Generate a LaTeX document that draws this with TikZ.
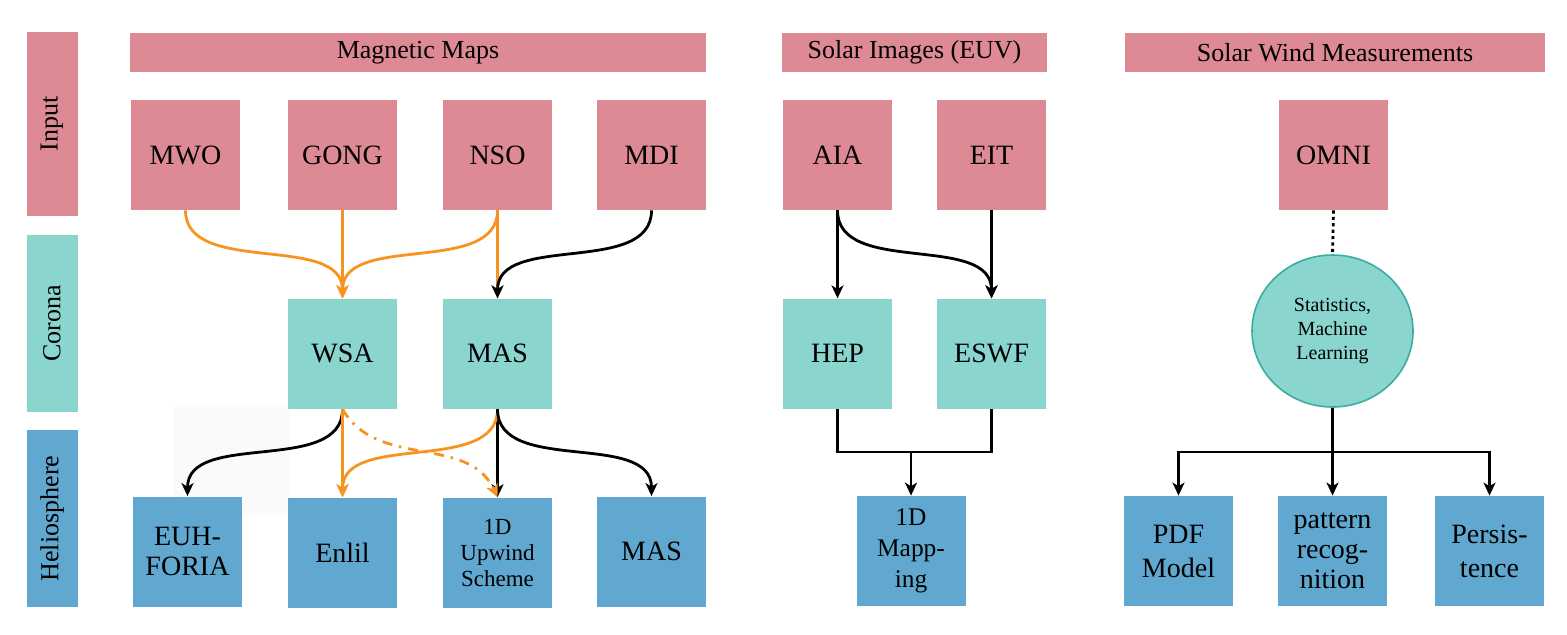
\documentclass[tikz,border=0pt]{standalone}
\usepackage{fontspec}
\setmainfont{Liberation Serif}
\usetikzlibrary{arrows.meta,positioning,shapes.geometric}
\definecolor{InPink}{HTML}{DE8A94}
\definecolor{CoTeal}{HTML}{8AD5CE}
\definecolor{HeBlue}{HTML}{60A8CF}
\definecolor{Flow}{HTML}{F7931E}
\definecolor{RimTeal}{HTML}{3AAE9F}

\begin{document}
\begin{tikzpicture}[
  x=0.5pt,y=-0.5pt,
  box/.style={minimum width=54.5pt,minimum height=55pt,align=center,inner sep=1pt,font=\fontsize{14}{15}\selectfont},
  input/.style={box,fill=InPink},
  corona/.style={box,fill=CoTeal},
  helio/.style={box,fill=HeBlue},
  header/.style={fill=InPink,minimum height=19.5pt,inner sep=0pt,font=\fontsize{13}{15}\selectfont},
  side/.style={rotate=90,minimum height=25.5pt,inner sep=0pt,font=\fontsize{13}{15}\selectfont},
  link/.style={line width=1.4pt,draw=black},
  arrow/.style={link,-{Stealth[length=6.5pt,width=6pt,inset=1.8pt]}},
  flow/.style={arrow,draw=Flow},
  swoop/.style={out=-90,in=90,min distance=33pt,max distance=33pt}
]
\useasboundingbox (0,0) rectangle (1567,634);
\fill[black!2] (173,407) rectangle (290,515);

% layers
\node[side,fill=InPink,minimum width=92pt] (lin) at (52,124) {Input};
\node[side,fill=CoTeal,minimum width=88.5pt] (lco) at (52,323.5) {Corona};
\node[side,fill=HeBlue,minimum width=88.5pt] (lhe) at (52,518.5) {Heliosphere};

% headers
\node[header,minimum width=288pt] (hmag) at (418,52.5) {Magnetic Maps};
\node[header,minimum width=132.5pt] (heuv) at (914.5,52.5) {Solar Images (EUV)};
\node[header,minimum width=210pt] (hwind) at (1335,52.5) {Solar Wind Measurements};

% input
\node[input] (mwo) at (185.5,155) {MWO};
\node[input] (gong) at (342.5,155) {GONG};
\node[input] (nso) at (497.5,155) {NSO};
\node[input] (mdi) at (651.5,155) {MDI};
\node[input] (aia) at (837.5,155) {AIA};
\node[input] (eit) at (991.5,155) {EIT};
\node[input] (omni) at (1333.5,155) {OMNI};

% corona
\node[corona,below=44pt of gong] (wsa) {WSA};
\node[corona,below=44pt of nso] (mas) {MAS};
\node[corona,below=44pt of aia] (hep) {HEP};
\node[corona,below=44pt of eit] (eswf) {ESWF};
\node[ellipse,fill=CoTeal,draw=RimTeal,line width=0.8pt,minimum width=80.5pt,minimum height=76pt,
  align=center,inner sep=0pt,font=\fontsize{10}{11.8}\selectfont] (stats) at (1332.5,331) {Statistics,\\Machine\\Learning};

% heliosphere
\node[helio] (euh) at (187.5,551.5) {EUH-\\FORIA};
\node[helio,below=44pt of wsa] (enlil) {Enlil};
\node[helio,below=44pt of mas,font=\fontsize{11.5}{13}\selectfont] (upwind) {1D\\Upwind\\Scheme};
\node[helio] (mas2) at (651.5,551.5) {MAS};
\node[helio,font=\fontsize{12.7}{15.5}\selectfont] (mapping) at (911,551) {1D\\Mapp-\\ing};
\node[helio,font=\fontsize{14}{17}\selectfont] (pdf) at (1178.5,551) {PDF\\Model};
\node[helio] (pattern) at (1332.5,551) {pattern\\recog-\\nition};
\node[helio,font=\fontsize{14}{17}\selectfont] (persist) at (1489.5,551) {Persis-\\tence};

\coordinate (join) at (911,452);
\coordinate (fork) at (1332.5,452);

% magnetic maps
\draw[flow] (mwo.south) to[swoop] (wsa.north);
\draw[flow] (gong.south) -- (wsa.north);
\draw[flow] (nso.south) to[swoop] (wsa.north);
\draw[flow] (nso.south) -- (mas.north);
\draw[arrow] (mdi.south) to[swoop] (mas.north);
\draw[arrow] (wsa.south) to[swoop] (euh.north);
\draw[flow] (wsa.south) -- (enlil.north);
\draw[arrow] (mas.south) -- (upwind.north);
\draw[flow,dash pattern=on 5pt off 3.5pt on 1.2pt off 3.5pt] (wsa.south) to[out=-60,in=115] (upwind.north);
\draw[flow] (mas.south) to[swoop] (enlil.north);
\draw[arrow] (mas.south) to[swoop] (mas2.north);

% euv
\draw[arrow] (aia.south) -- (hep.north);
\draw[arrow] (aia.south) to[swoop] (eswf.north);
\draw[arrow] (eit.south) -- (eswf.north);
\draw[link] (hep.south) |- (join) -| (eswf.south);
\draw[arrow] (join) -- (mapping.north);

% solar wind
\draw[link,dash pattern=on 1.6pt off 1.6pt] (omni.south) -- (stats.north);
\draw[link] (stats.south) -- (fork);
\draw[arrow] (fork) -| (pdf.north);
\draw[arrow] (fork) -- (pattern.north);
\draw[arrow] (fork) -| (persist.north);
\end{tikzpicture}
\end{document}
